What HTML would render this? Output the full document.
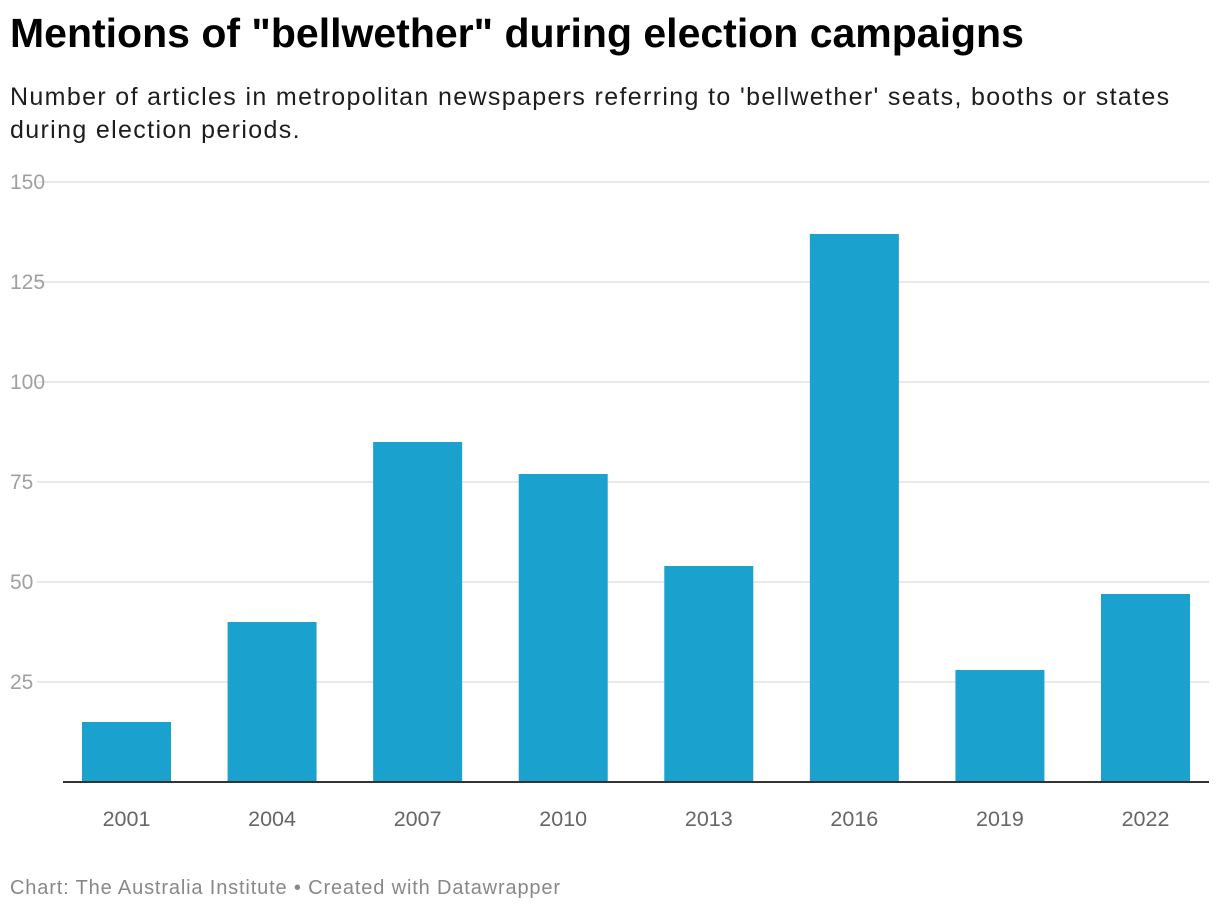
<!DOCTYPE html>
<html><head><meta charset="utf-8"><style>
body{margin:0;background:#fff;font-family:"Liberation Sans",sans-serif;}
#wrap{position:relative;width:1220px;height:914px;overflow:hidden}
h1{position:absolute;left:10px;top:10px;margin:0;font-size:41px;font-weight:bold;color:#000;letter-spacing:0px}
.sub{position:absolute;left:10px;top:81px;width:1195px;font-size:25px;line-height:33px;color:#1d1d1d;letter-spacing:1.35px}
.foot{position:absolute;left:10px;top:877px;font-size:20px;color:#888;letter-spacing:0.85px}
</style></head><body><div id="wrap">
<h1>Mentions of "bellwether" during election campaigns</h1>
<div class="sub">Number of articles in metropolitan newspapers referring to 'bellwether' seats, booths or states during election periods.</div>
<svg id="c" width="1220" height="914" style="position:absolute;left:0;top:0"></svg>
<div class="foot">Chart: The Australia Institute • Created with Datawrapper</div>
</div>
<script>
const categories=["2001","2004","2007","2010","2013","2016","2019","2022"];
const values=[15,40,85,77,54,137,28,47];
const yTicks=[25,50,75,100,125,150];
const svg=document.getElementById('c');const NS='http://www.w3.org/2000/svg';
const y=v=>782-v*4;
const bw=89, x0=82, step=(1190-82-bw)/(categories.length-1);
const x=i=>x0+i*step;
function mk(t,a){const e=document.createElementNS(NS,t);for(const k in a)e.setAttribute(k,a[k]);svg.appendChild(e);return e;}
yTicks.forEach(t=>{
 const l=mk('line',{x1:37,x2:1209,y1:y(t),y2:y(t),stroke:'#e2e2e2','stroke-width':1.5});
 
 
 const tx=mk('text',{x:10,y:y(t)+7,fill:'#a0a0a0','font-size':21,'font-family':'Liberation Sans, sans-serif'});
 tx.textContent=t;
 
 
});
values.forEach((v,i)=>{
 const r=mk('rect',{x:x(i),y:y(v),width:bw,height:y(0)-y(v),fill:'#1aa1ce'});
 
 
 const tx=mk('text',{x:x(i)+bw/2,y:826,fill:'#666','font-size':21.5,'text-anchor':'middle','font-family':'Liberation Sans, sans-serif'});
 tx.textContent=categories[i];
 
 
});
const ax=mk('line',{x1:63,x2:1209,y1:782,y2:782,stroke:'#333','stroke-width':2});


</script></body></html>
